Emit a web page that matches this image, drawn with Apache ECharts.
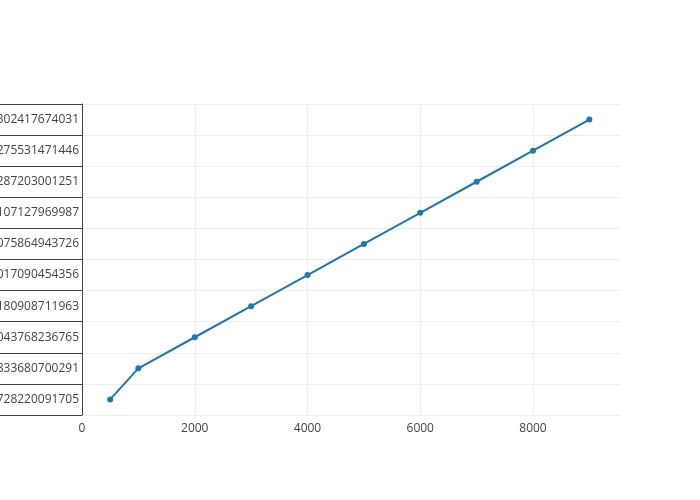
<!DOCTYPE html>
<html>
<head>
<meta charset="utf-8">
<script src="https://cdn.jsdelivr.net/npm/echarts@6/dist/echarts.min.js"></script>
<style>html,body{margin:0;padding:0;background:#fff}#c{width:700px;height:500px}</style>
</head>
<body>
<div id="c"></div>
<script>
const categories = ["728220091705","833680700291","043768236765","180908711963","017090454356","075864943726","107127969987","287203001251","275531471446","302417674031"];
const xValues = [500,1000,2000,3000,4000,5000,6000,7000,8000,9000];
const yValues = ["728220091705","833680700291","043768236765","180908711963","017090454356","075864943726","107127969987","287203001251","275531471446","302417674031"];
const xTicks = [0,2000,4000,6000,8000];

const chart = echarts.init(document.getElementById('c'), null, {renderer:'canvas'});
const font = {fontFamily:'"Open Sans", sans-serif', fontSize:12, color:'#444'};
chart.setOption({
  animation:false,
  backgroundColor:'#fff',
  grid:{left:82,right:80,top:104,bottom:85,containLabel:false,outerBoundsMode:'none'},
  xAxis:{
    type:'value', min:0, max:9543, interval:2000,
    axisLine:{show:false}, axisTick:{show:false},
    axisLabel:Object.assign({margin:8,showMaxLabel:false,formatter:v=>xTicks.includes(v)?String(v):''},font),
    splitLine:{show:true,showMaxLine:false,lineStyle:{color:'#eee',width:1}}
  },
  yAxis:{
    type:'category', data:categories, boundaryGap:true,
    axisLine:{show:true,lineStyle:{color:'#444',width:1}},
    axisTick:{show:true,length:82,lineStyle:{color:'#444',width:1}},
    axisLabel:Object.assign({margin:3},font),
    splitLine:{show:true,lineStyle:{color:'#eee',width:1}}
  },
  series:[{
    type:'line',
    data:xValues.map((x,i)=>[x,yValues[i]]),
    symbol:'circle', symbolSize:6,
    lineStyle:{color:'#1f77b4',width:2},
    itemStyle:{color:'#1f77b4'}
  }]
});
</script>
</body>
</html>
